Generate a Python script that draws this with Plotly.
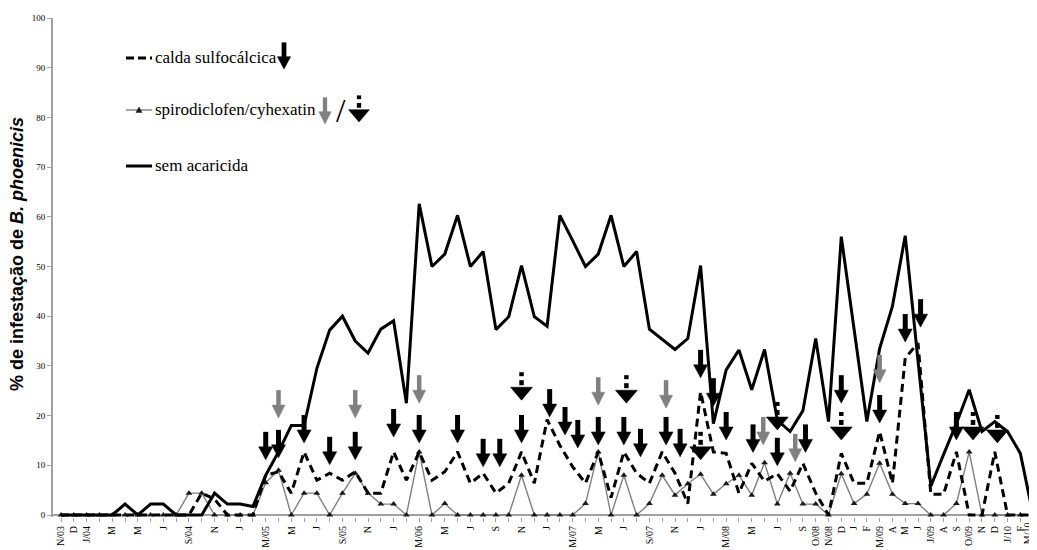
import plotly.graph_objects as go

# ---------------- data ----------------
months = list(range(77))  # N/03 ... M/10, monthly
tick_labels = ["N/03", "D", "J/04", "", "M", "", "M", "", "J", "", "S/04", "", "N", "", "J", "",
               "M/05", "", "M", "", "J", "", "S/05", "", "N", "", "J", "", "M/06", "", "M", "",
               "J", "", "S", "", "N", "", "J", "", "M/07", "", "M", "", "J", "", "S/07", "",
               "N", "", "J", "", "M/08", "", "M", "", "J", "", "S", "O/08", "N/08", "D", "J", "F",
               "M/09", "A", "M", "J", "J/09", "A", "S", "O/09", "N", "D", "J/10", "F", "M/10"]

sem_acaricida = [0, 0, 0, 0, 0, 2.2, 0, 2.2, 2.2, 0, 0, 0, 4.4, 2.2, 2.2, 1.7,
                 8, 12.7, 18, 18, 29.5, 37.2, 40, 35, 32.6, 37.4, 39.1, 22.5, 62.6, 50, 52.5, 60.3,
                 50, 53, 37.3, 39.9, 50.2, 39.9, 38, 60.3, 55.2, 50, 52.5, 60.3, 50, 53, 37.4, 35.4,
                 33.3, 35.5, 50.2, 18.4, 29.2, 33.2, 25.2, 33.3, 19.1, 16.8, 21, 35.5, 18.8, 56,
                 37.9, 18.8, 33.5, 42, 56.2, 31.5, 5.8, 12.2, 18.4, 25.2, 16.8, 18.8, 16.8, 12.4, 0]

calda = [0, 0, 0, 0, 0, 0, 0, 0, 0, 0, 0, 4.4, 3.2, 0, 0, 0,
         8, 8.7, 4.4, 12.7, 7, 8.4, 7, 8.7, 4.4, 4.4, 12.7, 7, 12.7, 7, 8.7, 12.7,
         6.4, 8.4, 4.4, 6.4, 12.7, 6.4, 19.2, 14, 9.7, 6.4, 12.7, 3.5, 12.7, 8.4, 6.4, 12.7,
         8.4, 2.3, 24.8, 12.7, 12.4, 4.4, 10.4, 6.8, 8.3, 4.8, 10.4, 4.4, 0, 12.4,
         6.4, 6.4, 16.8, 6.4, 31.6, 34.6, 4.2, 4.2, 12.7, 0, 0, 12.7, 0, 0, 0]

spiro = [0, 0, 0, 0, 0, 0, 0, 0, 0, 0, 4.4, 4.4, 0, 0, 0, 0,
         6.5, 9, 0, 4.4, 4.4, 0, 4.4, 8.4, 4.4, 2.2, 2.2, 0, 12.7, 0, 2.3, 0,
         0, 0, 0, 0, 8, 0, 0, 0, 0, 2.3, 12.7, 0, 8, 0, 2.3, 8,
         4, 6.3, 8.2, 4.2, 6.3, 8, 4, 10.5, 2.2, 8.4, 2.2, 2.2, 0, 8.3,
         2.3, 4.2, 10.4, 4.2, 2.3, 2.3, 0, 0, 2.3, 12.7, 0, 0, 0, 0, 0]

# application arrows (x = month index, y = value at arrow tip)
calda_arrow_x = [16, 17, 19, 21, 23, 26, 28, 31, 33, 34.3, 36, 38.2, 39.4, 40.4, 42, 44, 45.3,
                 47.3, 48.4, 50, 51, 52, 54.1, 56, 58.2, 61, 64, 66, 67.2, 70]
calda_arrow_y = [11.1, 11.5, 14.5, 10.1, 11.1, 15.7, 14.5, 14.5, 9.7, 9.7, 14.5, 19.7, 16.1, 13.5,
                 14.1, 14.1, 11.7, 14.1, 11.7, 27.6, 21.9, 15.1, 12.6, 9.9, 12.6, 22.5, 18.5,
                 34.8, 37.8, 15.1]
spiro_arrow_x = [17, 23, 28, 42, 47.3, 54.9, 57.4, 64]
spiro_arrow_y = [19.5, 19.5, 22.5, 22.1, 21.5, 14.1, 10.7, 26.6]
cyhex_arrow_x = [36, 44.2, 50, 56, 61, 71.3, 73.2]
cyhex_arrow_y = [23.1, 22.5, 11.1, 17.1, 15.1, 15.1, 14.5]

# ---------------- layout constants ----------------
W, H = 1037, 550
OFF = 8                      # page offset of the figure (body margin)
ML, MT = 45, 10
PW, PH = 985, 499
MR = W - ML - PW
MB = H - MT - PH
X_RANGE = [-0.63, 76.38]

SERIF = "Liberation Serif, Times New Roman, DejaVu Serif, serif"
SANS = "Liberation Sans, Arial, sans-serif"


def px2x(px):          # page pixel -> paper x
    return (px - OFF - ML) / PW


def py2y(py):          # page pixel -> paper y
    return (MT + PH - (py - OFF)) / PH


BLACK = "#000000"
GRAY = "#808080"


def arrow_shapes(xa, ya, kind, xref="x", yref="y", s=1.0):
    """Arrow whose tip is at (xa, ya); geometry in pixels."""
    base = dict(xref=xref, yref=yref, xanchor=xa, yanchor=ya,
                xsizemode="pixel", ysizemode="pixel", layer="above")
    out = []
    if kind in ("b", "g"):
        col = BLACK if kind == "b" else GRAY
        hw = 7 * s if kind == "b" else 6.5 * s
        out.append(dict(type="line", x0=0, x1=0, y0=11 * s, y1=28 * s,
                        line=dict(color=col, width=5 * s if kind == "b" else 4.5 * s), **base))
        out.append(dict(type="path",
                        path=f"M {-hw},{13*s} L {hw},{13*s} L 0,0 Z",
                        fillcolor=col, line=dict(color=col, width=0.5), **base))
    else:
        out.append(dict(type="path",
                        path=f"M {-11*s},{13*s} L {11*s},{13*s} L 0,0 Z",
                        fillcolor=BLACK, line=dict(color=BLACK, width=0.5), **base))
        out.append(dict(type="line", x0=0, x1=0, y0=15 * s, y1=20 * s,
                        line=dict(color=BLACK, width=4.5 * s), **base))
        out.append(dict(type="line", x0=0, x1=0, y0=24 * s, y1=28 * s,
                        line=dict(color=BLACK, width=4.5 * s), **base))
    return out


fig = go.Figure()

fig.add_trace(go.Scatter(
    x=months, y=spiro, mode="lines+markers", name="spirodiclofen/cyhexatin",
    line=dict(color=GRAY, width=1.4),
    marker=dict(symbol="triangle-up", size=6, color="#1a1a1a"),
    cliponaxis=False, showlegend=False))
fig.add_trace(go.Scatter(
    x=months, y=calda, mode="lines", name="calda sulfocálcica",
    line=dict(color=BLACK, width=3, dash="8px,5px"), showlegend=False))
fig.add_trace(go.Scatter(
    x=months, y=sem_acaricida, mode="lines", name="sem acaricida",
    line=dict(color=BLACK, width=3), showlegend=False))

shapes = []
for xa, ya in zip(calda_arrow_x, calda_arrow_y):
    shapes += arrow_shapes(xa, ya, "b")
for xa, ya in zip(spiro_arrow_x, spiro_arrow_y):
    shapes += arrow_shapes(xa, ya, "g")
for xa, ya in zip(cyhex_arrow_x, cyhex_arrow_y):
    shapes += arrow_shapes(xa, ya, "w")

# ---------------- manual legend ----------------
LX0, LX1 = 126, 152
row_y = [58, 110, 166]
shapes.append(dict(type="line", xref="paper", yref="paper",
                   x0=px2x(LX0), x1=px2x(LX1), y0=py2y(row_y[0]), y1=py2y(row_y[0]),
                   line=dict(color=BLACK, width=3, dash="8px,4px")))
shapes.append(dict(type="line", xref="paper", yref="paper",
                   x0=px2x(LX0), x1=px2x(LX1), y0=py2y(row_y[1]), y1=py2y(row_y[1]),
                   line=dict(color=GRAY, width=1.4)))
shapes.append(dict(type="path", xref="paper", yref="paper",
                   xanchor=px2x(139), yanchor=py2y(row_y[1]), xsizemode="pixel", ysizemode="pixel",
                   path="M -3,-2.5 L 3,-2.5 L 0,3 Z", fillcolor="#1a1a1a",
                   line=dict(color="#1a1a1a", width=0.5)))
shapes.append(dict(type="line", xref="paper", yref="paper",
                   x0=px2x(LX0), x1=px2x(LX1), y0=py2y(row_y[2]), y1=py2y(row_y[2]),
                   line=dict(color=BLACK, width=3)))
shapes += arrow_shapes(px2x(284), py2y(69), "b", "paper", "paper", 0.95)
shapes += arrow_shapes(px2x(325), py2y(124), "g", "paper", "paper", 0.95)
shapes += arrow_shapes(px2x(359), py2y(122), "w", "paper", "paper", 0.95)

legend_texts = ["calda sulfocálcica", "spirodiclofen/cyhexatin", "sem acaricida"]
annotations = []
for t, yy in zip(legend_texts, row_y):
    annotations.append(dict(text=t, xref="paper", yref="paper", x=px2x(153), y=py2y(yy),
                            xanchor="left", yanchor="middle", showarrow=False,
                            font=dict(family=SERIF, size=17, color=BLACK)))
annotations.append(dict(text="/", xref="paper", yref="paper", x=px2x(341), y=py2y(111),
                        xanchor="center", yanchor="middle", showarrow=False,
                        font=dict(family=SERIF, size=34, color=BLACK)))
annotations.append(dict(text="<b>% de infestação de <i>B. phoenicis</i></b>",
                        xref="paper", yref="paper", x=px2x(17), y=py2y(254),
                        xanchor="center", yanchor="middle", textangle=-90, showarrow=False,
                        font=dict(family=SANS, size=18, color=BLACK)))

# last month label drawn as an annotation, nudged inside the visible page edge
axis_labels = list(tick_labels)
last_label = axis_labels[-1]
axis_labels[-1] = ""
annotations.append(dict(text=last_label, xref="x", yref="paper", x=months[-1], y=py2y(520),
                        xanchor="center", yanchor="top", textangle=-90, showarrow=False,
                        xshift=-6,
                        font=dict(family=SERIF, size=10, color=BLACK)))

fig.update_layout(
    width=W, height=H,
    margin=dict(l=ML, r=MR, t=MT, b=MB, autoexpand=False),
    paper_bgcolor="white", plot_bgcolor="white",
    showlegend=False,
    shapes=shapes, annotations=annotations,
    xaxis=dict(range=X_RANGE, tickmode="array", tickvals=months, ticktext=axis_labels,
               tickangle=-90, ticks="outside", ticklen=4, tickcolor="#a0a0a0", tickwidth=1,
               ticklabeloverflow="allow",
               showline=False, showgrid=False, zeroline=False, automargin=False,
               tickfont=dict(family=SERIF, size=10, color=BLACK)),
    yaxis=dict(range=[-0.4, 100], tickmode="linear", tick0=0, dtick=10,
               ticks="outside", ticklen=4, tickcolor="#a0a0a0",
               showline=True, linecolor="#a0a0a0", linewidth=2,
               showgrid=False, zeroline=True, zerolinecolor="#a0a0a0", zerolinewidth=2,
               automargin=False,
               tickfont=dict(family=SERIF, size=9, color=BLACK)),
)

fig.write_html("out.html")
